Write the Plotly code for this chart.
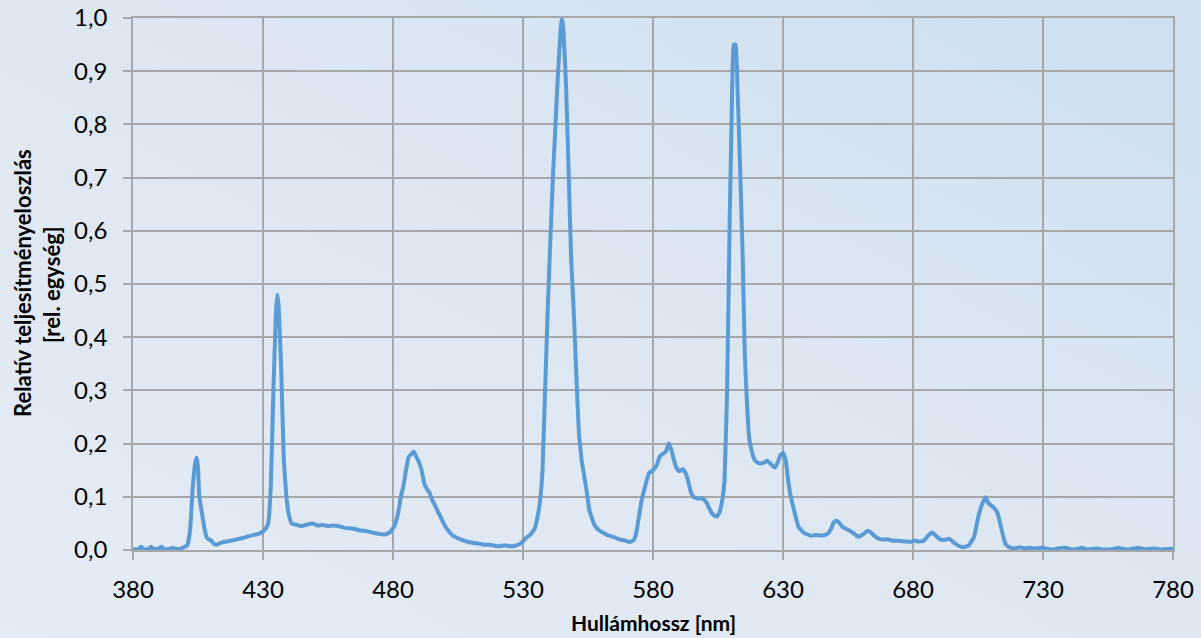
import base64
import plotly.graph_objects as go

# ---- data ----
wavelength = [
    380, 382, 383, 384, 386, 387, 388, 390, 391, 392, 394, 395, 396, 398, 399,
    400, 401, 402, 403, 404, 404.5, 405, 405.5, 406.5, 407.5, 408.5, 410, 411, 412,
    414, 416, 418, 420, 422, 424, 426, 428, 430, 431, 432, 433, 434, 435, 435.5,
    436, 437, 438, 439, 440, 441, 443, 445, 447, 449, 451, 453, 455, 457, 459,
    461, 463, 465, 467, 469, 471, 473, 475, 477, 479, 480.5, 482, 483, 484, 485,
    486, 487, 488, 489, 490, 491, 492, 493, 494, 495, 496, 497, 498, 499, 500,
    501, 502, 503, 505, 507, 509, 511, 513, 515, 517, 519, 521, 523, 525, 527,
    529, 531, 533, 534.5, 535.5, 536.5, 537.5, 538.5, 539.5, 540.5, 541.5, 542.5,
    543.5, 544.5, 545, 545.5, 546.5, 547.5, 548.5, 549.5, 550.5, 551.5, 552.5,
    553.5, 554.5, 555.5, 556.5, 557.5, 559, 561, 563, 565, 567, 569, 571, 572.5,
    573.5, 574.5, 575.5, 577, 578.5, 580, 581.5, 582.5, 583.5, 585, 586, 587, 588,
    589, 590, 591.5, 592.5, 593.5, 594.5, 595.5, 597, 599, 600.5, 601.5, 602.5,
    603.5, 604.5, 605.5, 606.5, 607.5, 608.5, 609.5, 610.5, 611, 611.8, 612.5,
    613.5, 614.5, 615.3, 616, 617, 618, 619, 620, 621, 622, 623, 624, 625, 626,
    627, 628, 629, 630, 631, 632, 633, 634, 635, 636, 637.5, 639, 641, 643, 645,
    647, 648.5, 649.5, 650.5, 651.5, 653, 655, 657, 659, 661, 662.5, 664, 665.5,
    667.5, 670, 672, 675, 677, 679, 680.5, 682, 684, 686, 687.5, 689, 690.5, 692,
    694, 696, 698, 699.5, 701.5, 703.5, 705, 706.5, 707.9, 709, 711, 712.5, 714,
    715.5, 717, 719, 721, 723, 725, 727, 729, 731, 733, 735, 737, 739, 741, 743,
    745, 747, 749, 751, 753, 755, 757, 759, 761, 763, 765, 767, 769, 771, 773,
    775, 777, 779, 780,
]
relative_power = [
    0.002, 0.001, 0.006, 0.001, 0.002, 0.006, 0.001, 0.003, 0.006, 0.001, 0.002, 0.004, 0.003, 0.002, 0.004,
    0.006, 0.010, 0.040, 0.120, 0.165, 0.174, 0.155, 0.100, 0.070, 0.040, 0.022, 0.018, 0.012, 0.010,
    0.014, 0.016, 0.018, 0.020, 0.022, 0.025, 0.028, 0.030, 0.035, 0.040, 0.050, 0.120, 0.300, 0.450, 0.480,
    0.460, 0.340, 0.170, 0.100, 0.065, 0.050, 0.047, 0.045, 0.048, 0.050, 0.046, 0.047, 0.045, 0.046, 0.045,
    0.042, 0.041, 0.040, 0.037, 0.036, 0.034, 0.032, 0.030, 0.029, 0.034, 0.045, 0.070, 0.100, 0.120, 0.150,
    0.175, 0.180, 0.185, 0.175, 0.165, 0.150, 0.125, 0.115, 0.108, 0.095, 0.085, 0.075, 0.065, 0.055, 0.045,
    0.038, 0.032, 0.027, 0.022, 0.018, 0.015, 0.013, 0.012, 0.010, 0.010, 0.008, 0.007, 0.009, 0.007, 0.008,
    0.012, 0.022, 0.030, 0.040, 0.060, 0.090, 0.150, 0.300, 0.450, 0.580, 0.700, 0.800,
    0.900, 0.980, 1.000, 0.980, 0.880, 0.720, 0.550, 0.450, 0.330, 0.220, 0.170,
    0.140, 0.110, 0.075, 0.060, 0.047, 0.038, 0.032, 0.027, 0.024, 0.020, 0.018, 0.015, 0.018,
    0.030, 0.060, 0.090, 0.120, 0.145, 0.150, 0.160, 0.175, 0.180, 0.185, 0.200, 0.190, 0.170,
    0.155, 0.148, 0.152, 0.145, 0.130, 0.110, 0.100, 0.097, 0.097, 0.090, 0.080, 0.070,
    0.065, 0.063, 0.070, 0.090, 0.130, 0.300, 0.620, 0.880, 0.950, 0.950, 0.870,
    0.720, 0.550, 0.370, 0.290, 0.210, 0.185, 0.170, 0.165, 0.163, 0.163, 0.165, 0.168, 0.163, 0.158,
    0.155, 0.165, 0.178, 0.183, 0.170, 0.130, 0.100, 0.080, 0.060, 0.043, 0.035, 0.030, 0.027, 0.028, 0.027,
    0.030, 0.040, 0.052, 0.055, 0.052, 0.043, 0.038, 0.032, 0.025, 0.030, 0.036, 0.032, 0.025,
    0.020, 0.020, 0.018, 0.017, 0.016, 0.015, 0.018, 0.016, 0.017, 0.028, 0.033, 0.026, 0.020, 0.019,
    0.021, 0.013, 0.007, 0.005, 0.009, 0.025, 0.060, 0.085, 0.099, 0.088, 0.080, 0.070, 0.040,
    0.012, 0.005, 0.003, 0.005, 0.003, 0.004, 0.003, 0.004, 0.003, 0.001, 0.002, 0.004, 0.004, 0.001, 0.002,
    0.004, 0.001, 0.002, 0.003, 0.001, 0.001, 0.002, 0.004, 0.002, 0.001, 0.003, 0.004, 0.001, 0.002, 0.003,
    0.001, 0.002, 0.002, 0.002,
]
x_ticks = [380, 430, 480, 530, 580, 630, 680, 730, 780]
y_ticks = [0.0, 0.1, 0.2, 0.3, 0.4, 0.5, 0.6, 0.7, 0.8, 0.9, 1.0]
x_title = "Hullámhossz [nm]"
y_title_line1 = "Relatív teljesítményeloszlás"
y_title_line2 = "[rel. egység]"

# ---- figure ----
W, H = 1201, 638
ML, MR, MT, MB = 133, 28, 18, 88
PW, PH = W - ML - MR, H - MT - MB

svg = (
    '<svg xmlns="http://www.w3.org/2000/svg" width="1201" height="638" '
    'preserveAspectRatio="none" viewBox="0 0 1201 638">'
    '<defs><linearGradient id="g" x1="0" y1="1" x2="1" y2="0">'
    '<stop offset="0" stop-color="#e4ecf5"/>'
    '<stop offset="0.5" stop-color="#dde7f2"/>'
    '<stop offset="1" stop-color="#cedfef"/>'
    '</linearGradient></defs>'
    '<rect width="1201" height="638" fill="url(#g)"/></svg>'
)
bg_src = "data:image/svg+xml;base64," + base64.b64encode(svg.encode()).decode()

grid = "#a5a7a9"
font_family = "Lato, 'Open Sans', sans-serif"

fig = go.Figure()
fig.add_trace(go.Scatter(
    x=wavelength, y=relative_power, mode="lines",
    line=dict(color="#5b9bd5", width=4, shape="spline", smoothing=0.3),
    cliponaxis=False, showlegend=False, hoverinfo="x+y",
))

fig.update_layout(
    width=W, height=H,
    margin=dict(l=ML, r=MR, t=MT, b=MB, autoexpand=False),
    paper_bgcolor="#dde7f2",
    plot_bgcolor="rgba(0,0,0,0)",
    separators=", ",
    font=dict(family=font_family, color="#000000", size=24),
    images=[dict(
        source=bg_src, xref="paper", yref="paper",
        x=-ML / PW, y=1 + MT / PH, sizex=W / PW, sizey=H / PH,
        xanchor="left", yanchor="top", sizing="stretch", layer="below",
    )],
    xaxis=dict(
        range=[380, 780], tickvals=x_ticks, ticktext=[str(v) for v in x_ticks],
        showgrid=True, gridcolor=grid, gridwidth=1.6,
        showline=True, linecolor=grid, linewidth=1.6, mirror=True,
        ticks="outside", ticklen=8, tickcolor=grid, tickwidth=1.6,
        zeroline=False, ticklabelstandoff=9, automargin=False,
        tickfont=dict(size=24, family=font_family),
    ),
    yaxis=dict(
        range=[0, 1], tickvals=y_ticks, tickformat=".1f",
        showgrid=True, gridcolor=grid, gridwidth=1.6,
        showline=True, linecolor=grid, linewidth=1.6, mirror=True,
        ticks="outside", ticklen=8, tickcolor=grid, tickwidth=1.6,
        zeroline=False, ticklabelstandoff=11, automargin=False,
        tickfont=dict(size=24, family=font_family),
    ),
    annotations=[
        dict(text="<b>" + x_title + "</b>", xref="paper", yref="paper",
             x=0.5, y=-(622 - 550) / PH, xanchor="center", yanchor="middle",
             showarrow=False, font=dict(size=21, family=font_family)),
        dict(text="<b>" + y_title_line1 + "</b>", xref="paper", yref="paper",
             x=-(ML - 22) / PW, y=(550 - 283) / PH, xanchor="center", yanchor="middle",
             textangle=-90, showarrow=False, font=dict(size=22, family=font_family)),
        dict(text="<b>" + y_title_line2 + "</b>", xref="paper", yref="paper",
             x=-(ML - 51) / PW, y=(550 - 285) / PH, xanchor="center", yanchor="middle",
             textangle=-90, showarrow=False, font=dict(size=22, family=font_family)),
    ],
)

fig.write_html("out.html")
